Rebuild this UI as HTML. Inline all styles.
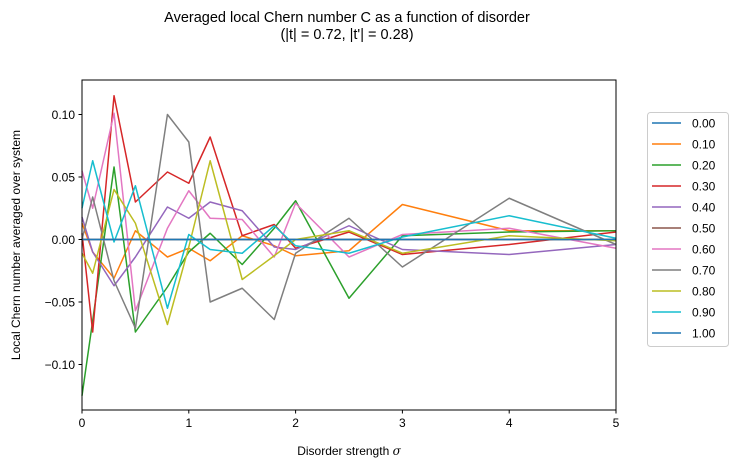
<!DOCTYPE html>
<html><head><meta charset="utf-8"><style>
body{margin:0;background:#fff;}
svg{display:block;font-family:"Liberation Sans","DejaVu Sans",sans-serif;}
</style></head><body>
<svg id="chart" width="732" height="469" viewBox="0 0 732 469">
<text x="347" y="22" text-anchor="middle" font-size="14.5">Averaged local Chern number C as a function of disorder</text>
<text x="347" y="39" text-anchor="middle" font-size="14.5">(|t| = 0.72, |t'| = 0.28)</text>
<g id="plot"></g>
<text x="349" y="455" text-anchor="middle" font-size="12">Disorder strength <tspan font-style="italic" font-family="DejaVu Serif, serif">σ</tspan></text>
<text transform="translate(20,245) rotate(-90)" text-anchor="middle" font-size="12">Local Chern number averaged over system</text>
<g id="legend"></g>
</svg>
<script>
const xs = [0,0.1,0.3,0.5,0.8,1.0,1.2,1.5,1.8,2.0,2.5,3.0,4.0,5.0];
const labels = ["0.00","0.10","0.20","0.30","0.40","0.50","0.60","0.70","0.80","0.90","1.00"];
const colors = ["#1f77b4","#ff7f0e","#2ca02c","#d62728","#9467bd","#8c564b","#e377c2","#7f7f7f","#bcbd22","#17becf","#1f77b4"];
const s000 = [0,0,0,0,0,0,0,0,0,0,0,0,0,0];
const s010 = [0.013,-0.01,-0.031,0.007,-0.014,-0.007,-0.017,0.003,-0.005,-0.013,-0.009,0.028,0.007,0.007];
const s020 = [-0.125,-0.065,0.058,-0.074,-0.038,-0.010,0.005,-0.020,0.009,0.031,-0.047,0.003,0.006,0.007];
const s030 = [0.005,-0.074,0.115,0.030,0.054,0.045,0.082,0.003,0.012,-0.007,0.006,-0.012,-0.004,0.006];
const s040 = [0.018,-0.010,-0.037,-0.014,0.026,0.017,0.030,0.023,-0.006,-0.008,0.011,-0.008,-0.012,-0.004];
const s050 = [0,0,0,0,0,0,0,0,0,0,0,0,0,0];
const s060 = [0.055,0.025,0.101,-0.057,0.009,0.039,0.017,0.016,-0.014,0.029,-0.014,0.004,0.009,-0.007];
const s070 = [0.0,0.034,-0.033,-0.071,0.100,0.078,-0.050,-0.039,-0.064,-0.011,0.017,-0.022,0.033,-0.004];
const s080 = [-0.011,-0.027,0.040,0.013,-0.068,-0.006,0.063,-0.032,-0.013,0.0,0.007,-0.011,0.003,-0.001];
const s090 = [0.025,0.063,-0.002,0.043,-0.055,0.004,-0.008,-0.011,0.011,-0.005,-0.011,0.002,0.019,0.001];
const s100 = [0,0,0,0,0,0,0,0,0,0,0,0,0,0];
const series = [s000,s010,s020,s030,s040,s050,s060,s070,s080,s090,s100];
const xTicks = [0,1,2,3,4,5];
const yTicks = [-0.10,-0.05,0.00,0.05,0.10];

const NS="http://www.w3.org/2000/svg";
const L=82,R=616,T=80,B=410;
const xMin=0,xMax=5,yMin=-0.1364,yMax=0.1276;
function X(v){return L+(v-xMin)/(xMax-xMin)*(R-L);}
function Y(v){return B-(v-yMin)/(yMax-yMin)*(B-T);}
const plot=document.getElementById('plot');
function el(t,a,p){const e=document.createElementNS(NS,t);for(const k in a)e.setAttribute(k,a[k]);(p||plot).appendChild(e);return e;}

series.forEach((s,i)=>{
  const d=s.map((v,j)=>(j?'L':'M')+X(xs[j]).toFixed(2)+','+Y(v).toFixed(2)).join('');
  const p=el('path',{d:d,fill:'none',stroke:colors[i],'stroke-width':1.5,'stroke-linejoin':'round'});
  
  
});
const frame=el('rect',{x:L,y:T,width:R-L,height:B-T,fill:'none',stroke:'#000','stroke-width':1});


xTicks.forEach(v=>{
  const t=el('line',{x1:X(v),x2:X(v),y1:B,y2:B+3.5,stroke:'#000'});
  
  
  const lb=el('text',{x:X(v),y:B+17,'text-anchor':'middle','font-size':12});
  
  
  lb.textContent=v;
});
yTicks.forEach(v=>{
  const t=el('line',{x1:L-3.5,x2:L,y1:Y(v),y2:Y(v),stroke:'#000'});
  
  
  const lb=el('text',{x:L-7,y:Y(v)+4.5,'text-anchor':'end','font-size':12});
  
  
  lb.textContent=(v<0?'\u2212':'')+Math.abs(v).toFixed(2);
});
const lg=document.getElementById('legend');
const box=el('rect',{x:647.5,y:112.5,width:81,height:234,rx:3,fill:'#fff',stroke:'#ccc'},lg);


labels.forEach((lab,i)=>{
  const y=123+i*21;
  const g=el('g',{},lg);
  
  
  el('line',{x1:652,x2:681,y1:y,y2:y,stroke:colors[i],'stroke-width':1.5},g);
  const t=el('text',{x:692,y:y+4.5,'font-size':12},g);
  t.textContent=lab;
});
</script>
</body></html>
